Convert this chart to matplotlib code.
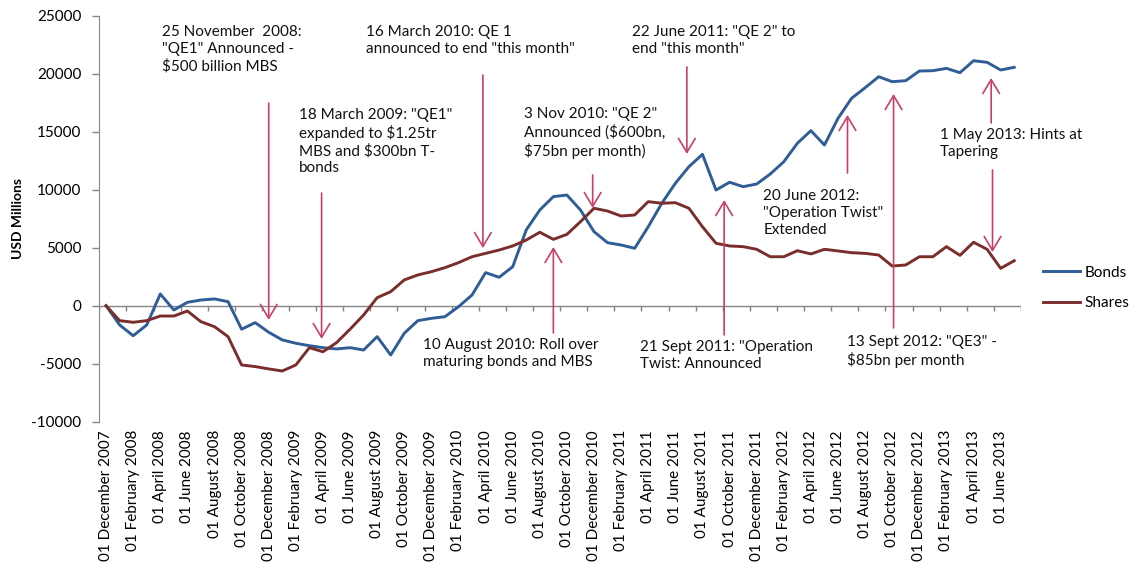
import numpy as np
import pandas as pd
import matplotlib
matplotlib.use('Agg')
import matplotlib.pyplot as plt

plt.rcParams['font.family'] = ['Lato', 'DejaVu Sans']
plt.rcParams['axes.unicode_minus'] = False

# monthly flows, Dec 2007 .. Jul 2013 (USD millions, cumulative)
months = pd.date_range('2007-12-01', periods=68, freq='MS')
month_labels = [d.strftime('%d %B %Y') for d in months]

bonds = [0, -1660, -2590, -1660, 1010, -370, 290, 490, 580, 350,
         -2030, -1460, -2290, -2950, -3240, -3450, -3620, -3730, -3620, -3820,
         -2670, -4250, -2380, -1290, -1090, -950, -90, 920, 2850, 2450,
         3360, 6530, 8250, 9400, 9540, 8250, 6380, 5430, 5230, 4950,
         6810, 8830, 10550, 11980, 13050, 9970, 10640, 10260, 10490, 11350,
         12410, 14000, 15090, 13850, 16150, 17880, 18790, 19740, 19310, 19400,
         20230, 20260, 20460, 20090, 21120, 20980, 20320, 20550]

shares = [0, -1290, -1430, -1290, -890, -890, -460, -1380, -1810, -2670,
          -5110, -5250, -5450, -5630, -5110, -3620, -3970, -3190, -2030, -800,
          690, 1210, 2220, 2650, 2930, 3280, 3710, 4220, 4510, 4800,
          5150, 5660, 6330, 5720, 6150, 7240, 8400, 8160, 7730, 7820,
          8970, 8830, 8880, 8400, 6810, 5380, 5150, 5090, 4860, 4220,
          4220, 4740, 4460, 4860, 4720, 4570, 4510, 4370, 3420, 3510,
          4220, 4220, 5090, 4340, 5470, 4860, 3220, 3880]

# (text, text x, text y, [(arrow start x, start y, head x, head y), ...])
events = [
    ('25 November  2008:\n"QE1" Announced -\n$500 billion MBS', 4.6, 24200,
     [(12.5, 17470, 12.5, -1230)]),
    ('18 March 2009: "QE1"\nexpanded to $1.25tr\nMBS and $300bn T-\nbonds', 14.7, 17040,
     [(16.4, 9710, 16.4, -2870)]),
    ('16 March 2010: QE 1\nannounced to end "this month"', 19.7, 24200,
     [(28.3, 19890, 28.3, 4970)]),
    ('3 Nov 2010: "QE 2"\nAnnounced ($600bn,\n$75bn per month)', 31.3, 17130,
     [(36.4, 11270, 36.4, 8420)]),
    ('22 June 2011: "QE 2" to\nend "this month"', 39.3, 24200,
     [(43.35, 20580, 43.35, 13080)]),
    ('10 August 2010: Roll over\nmaturing bonds and MBS', 23.9, -2780,
     [(33.5, -2350, 33.5, 5060)]),
    ('21 Sept 2011: "Operation\nTwist: Announced', 39.9, -2960,
     [(46.1, -2520, 46.1, 9110)]),
    ('20 June 2012:\n"Operation Twist"\nExtended', 49.0, 10060,
     [(55.2, 11440, 55.2, 16440)]),
    ('13 Sept 2012: "QE3" -\n$85bn per month', 55.2, -2530,
     [(58.6, -1920, 58.6, 18250)]),
    ('1 May 2013: Hints at\nTapering', 62.0, 15320,
     [(65.8, 15750, 65.8, 19630), (65.9, 11700, 65.9, 4630)]),
]

bond_color = '#2F5D96'
share_color = '#7A2E2C'
arrow_color = '#C8406A'
axis_color = '#868686'

fig = plt.figure(figsize=(11.4, 5.69), dpi=100)
ax = fig.add_axes([0.0871, 0.2589, 0.8085, 0.7135])

x = np.arange(len(bonds)) + 0.5
ax.plot(x, bonds, color=bond_color, lw=2.1, label='Bonds', solid_joinstyle='round')
ax.plot(x, shares, color=share_color, lw=2.1, label='Shares', solid_joinstyle='round')

ax.set_xlim(0, len(bonds))
ax.set_ylim(-10000, 25000)
ax.set_yticks(np.arange(-10000, 25001, 5000))

# category axis drawn through zero, with its own tick marks
ax.axhline(0, color=axis_color, lw=1, zorder=1)
ax.vlines(np.arange(0, len(bonds) + 1, 2), -450, 0, color=axis_color, lw=1, zorder=1)

ax.set_xticks(x[::2])
ax.set_xticklabels(month_labels[::2], rotation=90, fontsize=11)
ax.tick_params(axis='x', length=0, pad=6)
ax.tick_params(axis='y', length=5, width=1, color=axis_color, labelsize=11, pad=8)

for s in ['top', 'right', 'bottom']:
    ax.spines[s].set_visible(False)
ax.spines['left'].set_color(axis_color)

fig.text(18 / 1140, 0.616, 'USD Millions', rotation=90, ha='center', va='center',
         fontsize=10, fontweight='bold')

for text, tx, ty, arrows in events:
    ax.text(tx, ty, text, fontsize=11, ha='left', va='top', linespacing=1.25, color='#111111')
    for x0, y0, x1, y1 in arrows:
        ax.annotate('', xy=(x1, y1), xytext=(x0, y0),
                    arrowprops=dict(arrowstyle='->,head_length=0.5,head_width=0.3',
                                    color=arrow_color, lw=1.2, mutation_scale=20,
                                    shrinkA=0, shrinkB=0),
                    zorder=5)

fig.legend(loc='center left', bbox_to_anchor=(1043 / 1140, 1 - 288 / 569),
           frameon=False, fontsize=11, handlelength=2.4, handletextpad=0.3,
           labelspacing=1.1, borderpad=0, borderaxespad=0)

fig.savefig('out.png', dpi=100)
